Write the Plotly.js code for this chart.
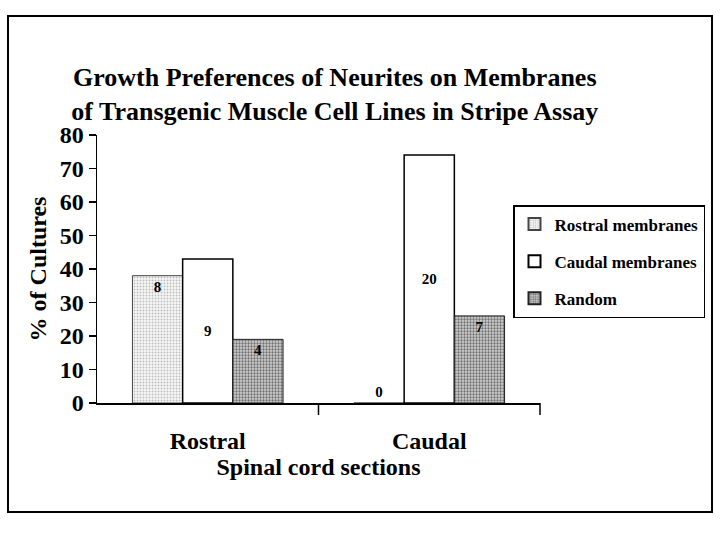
<!DOCTYPE html>
<html>
<head>
<meta charset="utf-8">
<script src="https://cdn.plot.ly/plotly-3.0.1.min.js"></script>
<style>html,body{margin:0;padding:0;background:#fff;}#chart{width:720px;height:539px;}</style>
</head>
<body>
<div id="chart"></div>
<script>
const categories = ["Rostral", "Caudal"];
const seriesNames = ["Rostral membranes", "Caudal membranes", "Random"];
const rostralMembranes = [38, 0];
const caudalMembranes = [43, 74];
const randomGrowth = [19, 26];
const rostralCounts = ["8", "0"];
const caudalCounts = ["9", "20"];
const randomCounts = ["4", "7"];
const yTicks = [0, 10, 20, 30, 40, 50, 60, 70, 80];

const serif = "Liberation Serif, Times New Roman, serif";
const textFont = {family: serif, size: 15, color: "#000", weight: "bold"};

const traces = [
  {
    type: "bar", name: seriesNames[0], legendgroup: "a", x: categories, y: rostralMembranes,
    text: rostralCounts, textposition: ["inside", "outside"], insidetextanchor: "end",
    textfont: textFont, outsidetextfont: textFont, insidetextfont: textFont,
    marker: {color: "#f4f4f4", line: {color: "#444", width: 1},
      pattern: {shape: ".", fgcolor: "#bdbdbd", bgcolor: "#f7f7f7", size: 3, solidity: 0.3}},
    cliponaxis: false
  },
  {
    type: "bar", name: seriesNames[1], legendgroup: "b", x: categories, y: caudalMembranes,
    text: caudalCounts, textposition: "inside", insidetextanchor: "middle",
    textfont: textFont, insidetextfont: textFont,
    marker: {color: "#ffffff", line: {color: "#000", width: 1.5}}
  },
  {
    type: "bar", name: seriesNames[2], legendgroup: "c", x: categories, y: randomGrowth,
    text: randomCounts, textposition: "inside", insidetextanchor: "end",
    textfont: textFont, insidetextfont: textFont,
    marker: {color: "#bcbcbc", line: {color: "#222", width: 1},
      pattern: {shape: ".", fgcolor: "#707070", bgcolor: "#d0d0d0", size: 3, solidity: 0.45}}
  }
];

const L = 97, R = 180, T = 135, B = 136;
const pw = 720 - L - R, ph = 539 - T - B;
function px(x) { return (x - L) / pw; }
function py(y) { return (539 - B - y) / ph; }

const layout = {
  width: 720, height: 539,
  margin: {l: L, r: R, t: T, b: B, pad: 0, autoexpand: false},
  paper_bgcolor: "#fff", plot_bgcolor: "#fff",
  barmode: "group", bargap: 0.32, bargroupgap: 0,
  font: {family: serif, color: "#000"},
  title: {
    text: "<b>Growth Preferences of Neurites on Membranes<br>of Transgenic Muscle Cell Lines in Stripe Assay</b>",
    font: {family: serif, size: 26, color: "#000"},
    x: 0.465, xanchor: "center", y: 1 - 86 / 539, yanchor: "middle",
    automargin: false
  },
  xaxis: {
    type: "category", range: [-0.5, 1.5], automargin: false,
    showline: true, linecolor: "#000", linewidth: 1.5,
    ticks: "", showgrid: false, zeroline: false,
    tickfont: {family: serif, size: 24, color: "#000", weight: "bold"},
    ticklabelstandoff: 16,
    title: {text: "<b>Spinal cord sections</b>", font: {family: serif, size: 24, color: "#000"}, standoff: 0}
  },
  yaxis: {
    range: [0, 80], tickvals: yTicks, ticktext: yTicks.map(String), automargin: false,
    showline: true, linecolor: "#000", linewidth: 1.5,
    ticks: "outside", ticklen: 7, tickwidth: 1.5, tickcolor: "#000",
    showgrid: false, zeroline: false,
    tickfont: {family: serif, size: 24, color: "#000", weight: "bold"},
    title: {text: "<b>% of Cultures</b>", font: {family: serif, size: 24, color: "#000"}, standoff: 6}
  },
  legend: {
    x: px(513), y: py(205), xanchor: "left", yanchor: "top",
    bgcolor: "#fff", bordercolor: "#000", borderwidth: 1.5,
    font: {family: serif, size: 17, color: "#000", weight: "bold"},
    traceorder: "grouped", itemwidth: 30, tracegroupgap: 12, itemsizing: "constant"
  },
  shapes: [
    {type: "rect", xref: "paper", yref: "paper",
     x0: px(8), x1: px(712), y0: py(512), y1: py(16),
     line: {color: "#000", width: 2}, fillcolor: "rgba(0,0,0,0)", layer: "below"},
    {type: "line", xref: "paper", yref: "paper",
     x0: 0.5, x1: 0.5, y0: 0, y1: -12 / ph, line: {color: "#000", width: 1.5}},
    {type: "line", xref: "paper", yref: "paper",
     x0: 1, x1: 1, y0: 0, y1: -12 / ph, line: {color: "#000", width: 1.5}}
  ],
  showlegend: true
};

Plotly.newPlot("chart", traces, layout, {displayModeBar: false, staticPlot: true});
</script>
</body>
</html>
